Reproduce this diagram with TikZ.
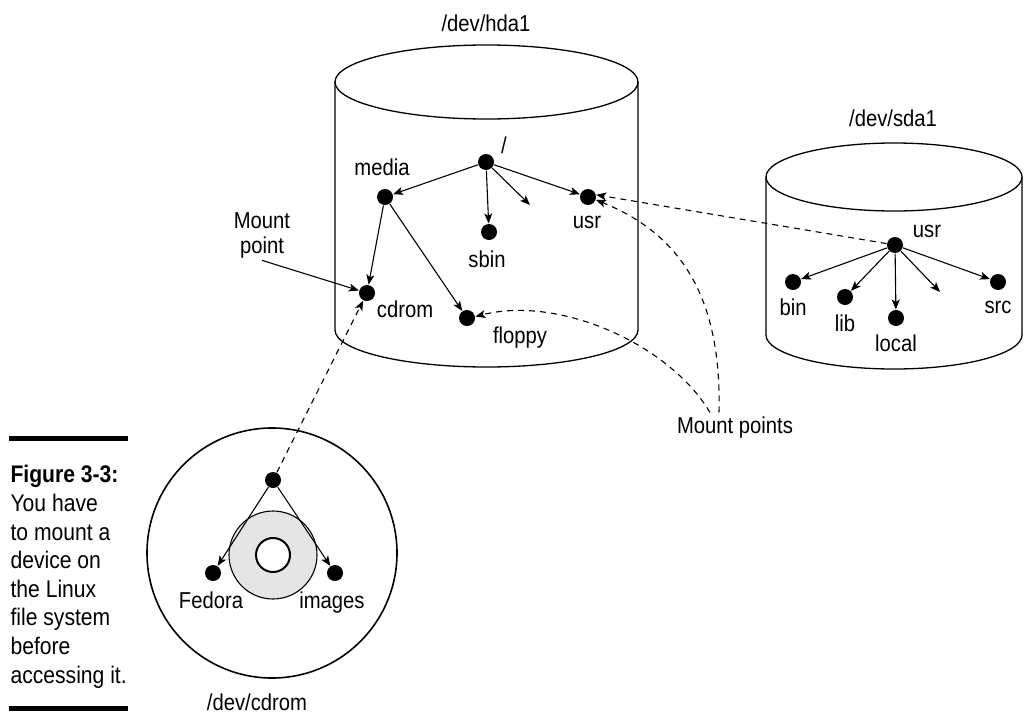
\documentclass[tikz,border=0pt]{standalone}
\usepackage{fontspec}
\setmainfont{Liberation Sans}[FakeStretch=0.88]
\usetikzlibrary{calc, positioning}
\usetikzlibrary{arrows.meta}

\begin{document}
\begin{tikzpicture}[x=1pt, y=-1pt, line width=1.1pt,
    dot/.style={circle, fill, inner sep=0pt, minimum size=16pt},
    lbl/.style={font=\fontsize{23}{25}\selectfont, anchor=base},
    tip/.style={-{Stealth[length=10pt, width=8pt, inset=2.5pt]}},
    mnt/.style={tip, dash pattern=on 6pt off 5pt}]
    \useasboundingbox (0,0) rectangle (1024,715);
    % disk /dev/hda1
    \def\hx{486.5}
    \def\htop{82}
    \def\hbot{330}
    \def\hrx{151.5}
    \def\hry{37}
    \draw[line width=1.3pt] (\hx,\htop) ellipse [x radius=\hrx, y radius=\hry];
    \draw[line width=1.3pt] (\hx-\hrx,\htop) -- (\hx-\hrx,\hbot)
        arc [start angle=180, end angle=0, x radius=\hrx, y radius=\hry] -- (\hx+\hrx,\htop);
    \node[lbl] (hdalbl) at (486,31) {/dev/hda1};
    \node[dot] (hroot) at (486,162) {};
    \node[dot] (hmedia) at (385,197) {};
    \node[dot] (hsbin) at (489,232) {};
    \node[dot] (husr) at (588,197) {};
    \node[dot] (hcdrom) at (367,293) {};
    \node[dot] (hfloppy) at (467,318) {};
    \coordinate (hmore) at (530,205);
    \node[lbl] (hrootlbl) at (504,153) {/};
    \node[lbl] (hmedialbl) at (382,175) {media};
    \node[lbl] (hsbinlbl) at (487,267) {sbin};
    \node[lbl] (husrlbl) at (587,228) {usr};
    \node[lbl] (hcdromlbl) at (405,317) {cdrom};
    \node[lbl] (hfloppylbl) at (520,343) {floppy};
    \draw[tip] (hroot) -- (hmedia);
    \draw[tip] (hroot) -- (hsbin);
    \draw[tip] (hroot) -- (hmore);
    \draw[tip] (hroot) -- (husr);
    \draw[tip] (hmedia) -- (hcdrom);
    \draw[tip] (hmedia) -- (hfloppy);

    % disk /dev/sda1
    \def\sx{894}
    \def\stop{177}
    \def\sbot{335}
    \def\srx{128}
    \def\sry{34}
    \draw[line width=1.3pt] (\sx,\stop) ellipse [x radius=\srx, y radius=\sry];
    \draw[line width=1.3pt] (\sx-\srx,\stop) -- (\sx-\srx,\sbot)
        arc [start angle=180, end angle=0, x radius=\srx, y radius=\sry] -- (\sx+\srx,\stop);
    \node[lbl] (sdalbl) at (893,126) {/dev/sda1};
    \node[dot] (susr) at (895,245) {};
    \node[dot] (sbin) at (793,282) {};
    \node[dot] (slib) at (845,297) {};
    \node[dot] (slocal) at (896,318) {};
    \node[dot] (ssrc) at (998,282) {};
    \coordinate (smore) at (940,292);
    \node[lbl] (susrlbl) at (927,237) {usr};
    \node[lbl] (sbinlbl) at (793,315) {bin};
    \node[lbl] (sliblbl) at (845,331) {lib};
    \node[lbl] (slocallbl) at (896,351) {local};
    \node[lbl] (ssrclbl) at (998,313) {src};
    \draw[tip] (susr) -- (sbin);
    \draw[tip] (susr) -- (slib);
    \draw[tip] (susr) -- (slocal);
    \draw[tip] (susr) -- (smore);
    \draw[tip] (susr) -- (ssrc);

    % CD-ROM
    \draw[line width=1.6pt] (272,553) circle (125);
    \draw[fill=gray!20] (273,555) circle (44);
    \draw[line width=2pt, fill=white] (273,555) circle (17);
    \node[lbl] (cdlbl) at (257,710) {/dev/cdrom};
    \node[dot] (croot) at (273,480) {};
    \node[dot] (cfedora) at (213,573) {};
    \node[dot] (cimages) at (335,573) {};
    \node[lbl] (cfedoralbl) at (211,608) {Fedora};
    \node[lbl] (cimageslbl) at (332,608) {images};
    \draw[tip] (croot) -- (cfedora);
    \draw[tip] (croot) -- (cimages);

    % mount points
    \node[lbl, anchor=center, align=center, inner sep=2pt] (mptlbl) at (262,235) {Mount\\point};
    \draw[tip] (mptlbl.south) -- (hcdrom);
    \node[lbl] (mptslbl) at (735,433) {Mount points};
    \draw[mnt] (croot) -- (hcdrom);
    \draw[mnt] (susr) -- (husr.15);
    \draw[mnt] ([xshift=-16pt]mptslbl.north) .. controls (722,290) and (675,232) .. (husr.-20);
    \draw[mnt] ([xshift=-25pt]mptslbl.north) .. controls (670,345) and (560,295) .. (hfloppy.10);

    % caption
    \draw[line width=5pt] (9,438) -- (128,438);
    \draw[line width=5pt] (9,708) -- (128,708);
    \node[font=\fontsize{24}{28.6}\selectfont, align=left, inner sep=0pt, anchor=north west] (caption) at (10,465)
        {\textbf{Figure 3-3:}\\You have\\to mount a\\device on\\the Linux\\file system\\before\\accessing it.};
\end{tikzpicture}
\end{document}
